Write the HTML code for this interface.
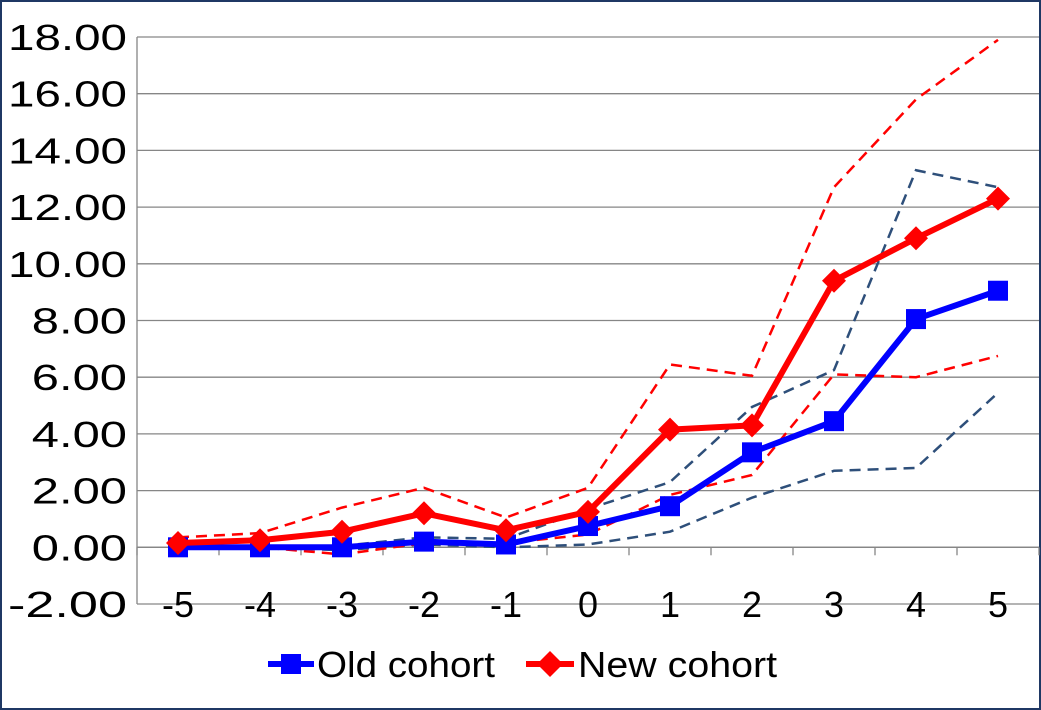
<!DOCTYPE html>
<html><head><meta charset="utf-8"><style>
html,body{margin:0;padding:0;background:#fff}
svg{display:block}
text{font-family:"Liberation Sans",sans-serif;fill:#000}
</style></head><body>
<svg id="chart" width="1041" height="710" viewBox="0 0 1041 710">
<rect x="1" y="1" width="1039" height="708" fill="#fff" stroke="#1f3864" stroke-width="2"/>
<g id="grid"></g><g id="axes"></g><g id="series"></g>
<g>
<g>
<line x1="268" y1="664" x2="314" y2="664" stroke="#0000ff" stroke-width="6"/>
<rect x="281" y="654" width="20" height="20" fill="#0000ff"/>
<text x="317" y="677" font-size="36" textLength="178" lengthAdjust="spacingAndGlyphs">Old cohort</text></g>
<g>
<line x1="526" y1="664" x2="574" y2="664" stroke="#ff0000" stroke-width="6"/>
<polygon points="550,651 563,664 550,677 537,664" fill="#ff0000"/>
<text x="578" y="677" font-size="36" textLength="199" lengthAdjust="spacingAndGlyphs">New cohort</text></g>
</g>
</svg>
<script>
const categories=[-5,-4,-3,-2,-1,0,1,2,3,4,5];
const oldCohort=[0.0,0.0,0.0,0.2,0.1,0.75,1.45,3.35,4.45,8.05,9.05];
const newCohort=[0.15,0.25,0.55,1.2,0.6,1.25,4.15,4.3,9.4,10.9,12.3];
const newUpper=[0.35,0.5,1.4,2.1,1.05,2.1,6.45,6.05,12.7,15.8,17.9];
const newLower=[0.0,0.0,-0.25,0.15,0.15,0.45,1.85,2.55,6.1,6.0,6.75];
const oldUpper=[0.0,0.0,0.05,0.35,0.3,1.35,2.3,4.95,6.25,13.3,12.7];
const oldLower=[0.0,0.0,-0.1,0.1,0.0,0.1,0.55,1.75,2.7,2.8,5.45];
const yTicks=[-2,0,2,4,6,8,10,12,14,16,18];
const NS="http://www.w3.org/2000/svg";
const L=137,R=1039,T=37,B=604,yMin=-2,yMax=18;
const bw=(R-L)/categories.length;
function x(i){return L+bw*(i+0.5);}
function y(v){return B-(v-yMin)/(yMax-yMin)*(B-T);}
function mk(tag,attrs,parent){const e=document.createElementNS(NS,tag);for(const k in attrs)e.setAttribute(k,attrs[k]);document.getElementById(parent).appendChild(e);return e;}
yTicks.forEach(t=>{
const g=mk('line',{x1:L,x2:R,y1:y(t),y2:y(t),stroke:'#868686','stroke-width':1.3},'grid');


const s=t.toFixed(2);
const tx=mk('text',{x:L-10,y:y(t)+13,'font-size':36,'text-anchor':'end',textLength:s.length*23.8,lengthAdjust:'spacingAndGlyphs'},'axes');
tx.textContent=s;


});
const ax=mk('line',{x1:L,x2:L,y1:T,y2:B,stroke:'#868686','stroke-width':1.3},'axes');


const xa=mk('line',{x1:L,x2:R,y1:y(0),y2:y(0),stroke:'#868686','stroke-width':1.3},'axes');


for(let i=0;i<=categories.length;i++){
const tk=mk('line',{x1:L+bw*i,x2:L+bw*i,y1:y(0),y2:y(0)+8,stroke:'#868686','stroke-width':1.3},'axes');


}
categories.forEach((c,i)=>{
const tx=mk('text',{x:x(i),y:y(-2)+13,'font-size':36,'text-anchor':'middle'},'axes');
tx.textContent=c;


});
function pts(a){return a.map((v,i)=>x(i)+','+y(v)).join(' ');}
function dashed(a,col,name){
const p=mk('polyline',{points:pts(a),fill:'none',stroke:col,'stroke-width':2.5,'stroke-dasharray':'11,7'},'series');


}
dashed(oldUpper,'#2e4f7a','old-cohort-upper-bound');
dashed(oldLower,'#2e4f7a','old-cohort-lower-bound');
dashed(newUpper,'#ff0000','new-cohort-upper-bound');
dashed(newLower,'#ff0000','new-cohort-lower-bound');
const lo=mk('polyline',{points:pts(oldCohort),fill:'none',stroke:'#0000ff','stroke-width':6,'stroke-linejoin':'round'},'series');


oldCohort.forEach((v,i)=>{
const r=mk('rect',{x:x(i)-10,y:y(v)-10,width:20,height:20,fill:'#0000ff'},'series');


});
const ln=mk('polyline',{points:pts(newCohort),fill:'none',stroke:'#ff0000','stroke-width':6,'stroke-linejoin':'round'},'series');


newCohort.forEach((v,i)=>{
const cx=x(i),cy=y(v);
const d=mk('polygon',{points:`${cx},${cy-12} ${cx+12},${cy} ${cx},${cy+12} ${cx-12},${cy}`,fill:'#ff0000'},'series');


});
</script>
</body></html>
